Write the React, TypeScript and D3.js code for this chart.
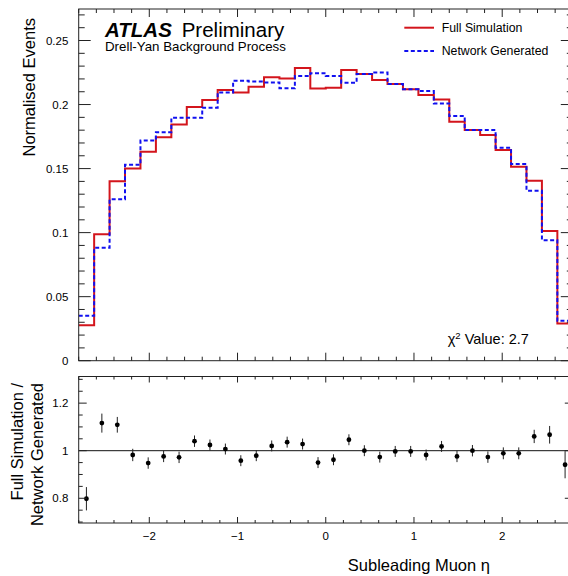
import React from 'react';
import * as d3 from 'd3';

// Binning of the histograms (eta)
const etaMin = -2.8;
const etaMax = 2.8;
const nBins = 32;

// Normalised events per bin
const fullSimulation = [
  0.0277, 0.0988, 0.1402, 0.1500, 0.1631, 0.1744, 0.1845, 0.1980,
  0.2035, 0.2113, 0.2095, 0.2138, 0.2213, 0.2204, 0.2285, 0.2126,
  0.2131, 0.2270, 0.2238, 0.2191, 0.2160, 0.2119, 0.2074, 0.2040,
  0.1866, 0.1801, 0.1762, 0.1645, 0.1514, 0.1405, 0.1012, 0.0291,
];
const networkGenerated = [
  0.0350, 0.0881, 0.1260, 0.1530, 0.1720, 0.1783, 0.1897, 0.1897,
  0.1975, 0.2095, 0.2186, 0.2180, 0.2173, 0.2127, 0.2223, 0.2244,
  0.2223, 0.2170, 0.2238, 0.2250, 0.2160, 0.2119, 0.2105, 0.2009,
  0.1910, 0.1801, 0.1801, 0.1663, 0.1535, 0.1327, 0.0941, 0.0311,
];
// Ratio Full Simulation / Network Generated
const ratioValues = [
  0.798, 1.116, 1.109, 0.982, 0.948, 0.976, 0.972, 1.040,
  1.024, 1.007, 0.958, 0.979, 1.020, 1.036, 1.028, 0.950,
  0.962, 1.046, 1.000, 0.973, 0.997, 0.997, 0.982, 1.018,
  0.976, 1.000, 0.973, 0.989, 0.989, 1.060, 1.067, 0.941,
];
const ratioErrors = [
  0.049, 0.040, 0.033, 0.026, 0.024, 0.024, 0.024, 0.024,
  0.023, 0.023, 0.023, 0.023, 0.023, 0.023, 0.023, 0.023,
  0.023, 0.023, 0.023, 0.023, 0.023, 0.023, 0.023, 0.023,
  0.024, 0.024, 0.024, 0.025, 0.025, 0.028, 0.037, 0.057,
];

const xTicks = [-2, -1, 0, 1, 2];
const xTickLabels = ['\u22122', '\u22121', '0', '1', '2'];
const yTicksMain = [0, 0.05, 0.1, 0.15, 0.2, 0.25];
const yTickLabelsMain = ['0', '0.05', '0.1', '0.15', '0.2', '0.25'];
const yTicksRatio = [0.8, 1, 1.2];
const yTickLabelsRatio = ['0.8', '1', '1.2'];

const FONT = '"Liberation Sans", Arial, Helvetica, sans-serif';
const RED = '#d3151c';
const BLUE = '#1010f0';
const AX = '#222';

export default function App() {
  const W = 568;
  const H = 576;
  const L = 78.7;
  const R = 572.8;
  const topT = 9;
  const topB = 360.7;
  const ratT = 376.5;
  const ratB = 523;

  const x = d3.scaleLinear().domain([etaMin, etaMax]).range([L, R]);
  const yTop = d3.scaleLinear().domain([0, 0.2746]).range([topB, topT]);
  const yRat = d3.scaleLinear().domain([0.696, 1.312]).range([ratB, ratT]);

  const binW = (etaMax - etaMin) / nBins;
  const edges = d3.range(nBins + 1).map((i) => etaMin + i * binW);
  const centers = d3.range(nBins).map((i) => etaMin + (i + 0.5) * binW);

  const stepPath = (vals: number[]) => {
    const pts: [number, number][] = vals.map((v, i) => [edges[i], v]);
    pts.push([edges[nBins], vals[nBins - 1]]);
    return d3
      .line<[number, number]>()
      .x((d) => x(d[0]))
      .y((d) => yTop(d[1]))
      .curve(d3.curveStepAfter)(pts) as string;
  };

  const xMinor = d3.range(-14, 15).map((i) => i * 0.2).filter((v) => Math.abs(v - Math.round(v)) > 1e-6);
  const yMinorMain = d3.range(0, 28).map((i) => i / 100).filter((v) => Math.abs(v * 20 - Math.round(v * 20)) > 1e-6);
  const yMinorRat = d3.range(14, 27).map((i) => i * 0.05).filter((v) => Math.abs(v * 5 - Math.round(v * 5)) > 1e-6);

  const tickLines: JSX.Element[] = [];
  const addX = (yLine: number, dir: number, major: number, minor: number, key: string) => {
    xTicks.forEach((t) =>
      tickLines.push(<line key={`${key}M${t}`} x1={x(t)} x2={x(t)} y1={yLine} y2={yLine + dir * major} />)
    );
    xMinor.forEach((t) =>
      tickLines.push(<line key={`${key}m${t}`} x1={x(t)} x2={x(t)} y1={yLine} y2={yLine + dir * minor} />)
    );
  };
  addX(topB, -1, 8, 4, 'tb');
  addX(topT, 1, 8, 4, 'tt');
  addX(ratB, -1, 6, 3, 'rb');
  addX(ratT, 1, 6, 3, 'rt');

  const addY = (scale: any, majors: number[], minors: number[], major: number, minor: number, key: string) => {
    majors.forEach((t) => {
      tickLines.push(<line key={`${key}LM${t}`} x1={L} x2={L + major} y1={scale(t)} y2={scale(t)} />);
      tickLines.push(<line key={`${key}RM${t}`} x1={R} x2={R - major} y1={scale(t)} y2={scale(t)} />);
    });
    minors.forEach((t) => {
      tickLines.push(<line key={`${key}Lm${t}`} x1={L} x2={L + minor} y1={scale(t)} y2={scale(t)} />);
      tickLines.push(<line key={`${key}Rm${t}`} x1={R} x2={R - minor} y1={scale(t)} y2={scale(t)} />);
    });
  };
  addY(yTop, yTicksMain, yMinorMain, 12, 6, 'top');
  addY(yRat, yTicksRatio, yMinorRat, 8, 4, 'rat');

  return (
    <svg
      width={W}
      height={H}
      style={{ position: 'absolute', left: 0, top: 0, background: '#fff' }}
      fontFamily={FONT}
    >
      <rect x={0} y={0} width={W} height={H} fill="#fff" />
      <defs>
        <clipPath id="topClip">
          <rect x={L} y={topT} width={R - L} height={topB - topT} />
        </clipPath>
        <clipPath id="ratClip">
          <rect x={L} y={ratT} width={R - L} height={ratB - ratT} />
        </clipPath>
      </defs>

      {/* histograms */}
      <g clipPath="url(#topClip)" fill="none">
        <path d={stepPath(fullSimulation)} stroke={RED} strokeWidth={2} />
        <path d={stepPath(networkGenerated)} stroke={BLUE} strokeWidth={2} strokeDasharray="4 2.5" />
      </g>

      {/* ratio */}
      <g clipPath="url(#ratClip)">
        <line x1={L} x2={R} y1={yRat(1)} y2={yRat(1)} stroke="#111" strokeWidth={1} />
        {centers.map((c, i) => (
          <g key={`rp${i}`}>
            <line
              x1={x(c)}
              x2={x(c)}
              y1={yRat(ratioValues[i] - ratioErrors[i])}
              y2={yRat(ratioValues[i] + ratioErrors[i])}
              stroke="#222"
              strokeWidth={1}
            />
            <circle cx={x(c)} cy={yRat(ratioValues[i])} r={2.4} fill="#000" />
          </g>
        ))}
      </g>

      {/* frames and ticks */}
      <g stroke={AX} strokeWidth={1} fill="none">
        <rect x={L} y={topT} width={R - L} height={topB - topT} />
        <rect x={L} y={ratT} width={R - L} height={ratB - ratT} />
        {tickLines}
      </g>

      {/* tick labels */}
      <g fontSize={11.5} fill="#000">
        {yTicksMain.map((t, i) => (
          <text key={`ytl${t}`} x={68.3} y={yTop(t)} textAnchor="end" dominantBaseline="central">
            {yTickLabelsMain[i]}
          </text>
        ))}
        {yTicksRatio.map((t, i) => (
          <text key={`yrl${t}`} x={68.3} y={yRat(t)} textAnchor="end" dominantBaseline="central">
            {yTickLabelsRatio[i]}
          </text>
        ))}
        {xTicks.map((t, i) => (
          <text key={`xl${t}`} x={x(t)} y={539.5} textAnchor="middle">
            {xTickLabels[i]}
          </text>
        ))}
      </g>

      {/* axis titles */}
      <text transform="translate(34.5,18) rotate(-90)" textAnchor="end" fontSize={16.5}>
        Normalised Events
      </text>
      <text transform="translate(23,383) rotate(-90)" textAnchor="end" fontSize={16.5}>
        Full Simulation /
      </text>
      <text transform="translate(43,383) rotate(-90)" textAnchor="end" fontSize={16.5}>
        Network Generated
      </text>
      <text x={490} y={571} textAnchor="end" fontSize={16.5}>
        Subleading Muon η
      </text>

      {/* ATLAS label */}
      <text x={105} y={37} fontSize={20.5} fontWeight="bold" fontStyle="italic">
        ATLAS
      </text>
      <text x={181.7} y={37} fontSize={20.5}>
        Preliminary
      </text>
      <text x={105} y={51} fontSize={13.3}>
        Drell-Yan Background Process
      </text>

      {/* legend */}
      <line x1={404.3} x2={434} y1={27.7} y2={27.7} stroke={RED} strokeWidth={2} />
      <line x1={404.3} x2={434} y1={51} y2={51} stroke={BLUE} strokeWidth={2} strokeDasharray="4 2.5" />
      <text x={441.7} y={27.7} fontSize={12.3} dominantBaseline="central">
        Full Simulation
      </text>
      <text x={441.7} y={51} fontSize={12.3} dominantBaseline="central">
        Network Generated
      </text>

      {/* chi2 */}
      <text x={447.7} y={343.5} fontSize={14.5}>
        χ<tspan dy={-5} fontSize={9.5}>2</tspan>
        <tspan dy={5}> Value: 2.7</tspan>
      </text>
    </svg>
  );
}
